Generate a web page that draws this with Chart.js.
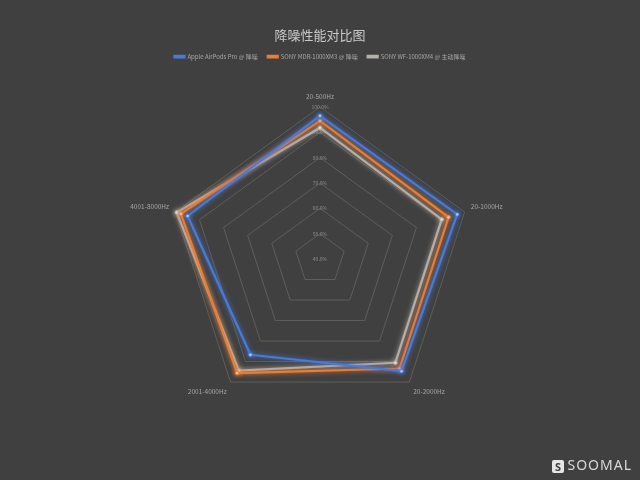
<html><head><meta charset="utf-8">
<script src="https://cdn.jsdelivr.net/npm/chart.js@4.4.0/dist/chart.umd.min.js"></script>
<style>
 body{margin:0;background:#404040;}
 #wrap{position:relative;width:640px;height:480px;}
 .mark{position:absolute;right:8px;bottom:6px;color:#d9d9d9;font:14px "Noto Sans","DejaVu Sans",sans-serif;letter-spacing:1px;}
 .mark b{display:inline-block;width:12px;height:13px;background:#e6e6e6;color:#404040;font-size:11px;line-height:13px;text-align:center;margin-right:3px;border-radius:2px;vertical-align:-1px;}
</style>
</head>
<body>
<div id="wrap">
 <canvas id="myChart" width="640" height="480"></canvas>
 <div class="mark"><b>S</b>SOOMAL</div>
</div>
<script>
var labels = ['20-500Hz', '20-1000Hz', '20-2000Hz', '2001-4000Hz', '4001-8000Hz'];
var seriesNames = ['Apple AirPods Pro @ 降噪', 'SONY MDR-1000XM3 @ 降噪', 'SONY WF-1000XM4 @ 主动降噪'];
var airpods = [96.5, 96.9, 94.7, 86.7, 94.9];
var mdr = [94.5, 93.3, 93.4, 95.6, 97.7];
var wf = [91.8, 90.5, 90.6, 94.4, 99.4];
var tickMin = 40, tickMax = 100, tickStep = 10;

var cjk = '"Noto Sans CJK SC", "Noto Sans", sans-serif';

// soft glow under each line
var glow = {
  id: 'glow',
  beforeDatasetDraw: function(chart, args) {
    var ctx = chart.ctx;
    ctx.save();
    ctx.shadowColor = args.meta.dataset.options.borderColor;
    ctx.shadowBlur = 5;
  },
  afterDatasetDraw: function(chart) { chart.ctx.restore(); }
};
// the first tick label (center) is skipped by chart.js
var centerTick = {
  id: 'centerTick',
  afterDatasetsDraw: function(chart) {
    var s = chart.scales.r, ctx = chart.ctx;
    ctx.save();
    ctx.fillStyle = '#8c8c8c';
    ctx.font = '5px ' + cjk;
    ctx.textAlign = 'center';
    ctx.textBaseline = 'middle';
    ctx.fillText(tickMin.toFixed(1) + '%', s.xCenter, s.yCenter);
    ctx.restore();
  }
};
// extra gap under the legend
var legendGap = {
  id: 'legendGap',
  beforeInit: function(chart) {
    var fit = chart.legend.fit;
    chart.legend.fit = function() {
      fit.bind(chart.legend)();
      this.height += 19;
    };
  }
};

var ctx = document.getElementById('myChart');
var myChart = new Chart(ctx, {
  type: 'radar',
  data: {
    labels: labels,
    datasets: [{
      label: seriesNames[0], data: airpods,
      borderColor: '#4a7ad8', backgroundColor: '#4a7ad8',
      pointBackgroundColor: '#c9d8f7', pointBorderColor: '#4a7ad8'
    }, {
      label: seriesNames[1], data: mdr,
      borderColor: '#ed7d31', backgroundColor: '#ed7d31',
      pointBackgroundColor: '#f9d3b8', pointBorderColor: '#ed7d31'
    }, {
      label: seriesNames[2], data: wf,
      borderColor: '#b4b0aa', backgroundColor: '#b4b0aa',
      pointBackgroundColor: '#eeeeee', pointBorderColor: '#b4b0aa'
    }]
  },
  options: {
    responsive: false,
    animation: false,
    devicePixelRatio: 1,
    elements: {
      line: { borderWidth: 2.2, fill: false, tension: 0 },
      point: { radius: 1.8, borderWidth: 1 }
    },
    layout: { padding: { top: 0, bottom: 58, left: 0, right: 0 } },
    plugins: {
      title: {
        display: true, text: '降噪性能对比图', color: '#c8c8c8',
        font: { family: cjk, size: 13, weight: 'normal' },
        padding: { top: 27, bottom: 1 }
      },
      legend: {
        position: 'top',
        labels: {
          color: '#a6a6a6', boxWidth: 10, boxHeight: 1.5,
          font: { family: cjk, size: 6 }, padding: 10
        }
      },
      tooltip: { enabled: false }
    },
    scales: {
      r: {
        min: tickMin, max: tickMax,
        angleLines: { display: false },
        grid: { color: '#5e5e5e', lineWidth: 1 },
        pointLabels: { color: '#a6a6a6', font: { family: cjk, size: 6.5 }, padding: 2 },
        ticks: {
          stepSize: tickStep, color: '#8c8c8c', showLabelBackdrop: false,
          font: { family: cjk, size: 5 },
          callback: function(v) { return v.toFixed(1) + '%'; }
        }
      }
    }
  },
  plugins: [glow, centerTick, legendGap]
});
</script>
</body></html>
